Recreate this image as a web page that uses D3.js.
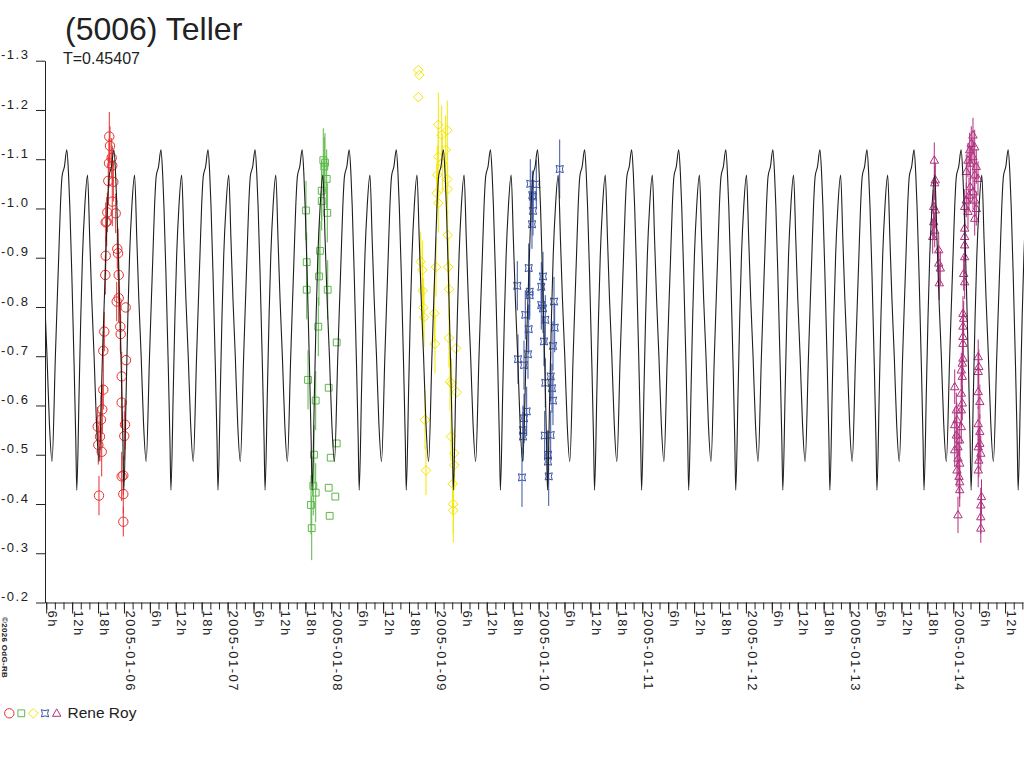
<!DOCTYPE html>
<html><head><meta charset="utf-8">
<script src="https://cdn.jsdelivr.net/npm/d3@7"></script>
<style>
body{margin:0;background:#fff}
svg{display:block;background:#fff}
text{font-family:"Liberation Sans",Arial,sans-serif;fill:#222}
</style>
</head><body>
<svg id="chart" width="1024" height="768"></svg>
<script>
// ---------------- data ----------------
const titleText = "(5006) Teller";
const periodText = "T=0.45407";
const periodDays = 0.45407;
const observerText = "Rene Roy";
const creditText = "\u00A92026 OdG-RB";

const yTickValues = [-1.3,-1.2,-1.1,-1.0,-0.9,-0.8,-0.7,-0.6,-0.5,-0.4,-0.3,-0.2];
const hourLabels = ["6h","12h","18h"];          // for 6h, 12h, 18h ticks
const dateLabels = ["2005-01-05","2005-01-06","2005-01-07","2005-01-08","2005-01-09",
                    "2005-01-10","2005-01-11","2005-01-12","2005-01-13","2005-01-14","2005-01-15"];
const xStartDay = 5.2383;   // day of January 2005 (UT) at left edge
const xEndDay = 14.6730;    // day of January 2005 (UT) at right edge

// model lightcurve: one period (phase 0 = primary maximum)
const curveEpochDay = 6.3568;
const curvePhase = [0,0.036,0.064,0.106,0.156,0.191,0.212,0.262,0.297,0.333,0.382,0.44,
                    0.488,0.531,0.58,0.63,0.686,0.757,0.792,0.828,0.864,0.899,0.949];
const curveMag   = [-1.119,-1.071,-1.004,-0.868,-0.679,-0.530,-0.428,-0.631,-0.780,-0.902,-1.004,-1.068,
                    -0.936,-0.814,-0.699,-0.564,-0.486,-0.699,-0.801,-0.902,-1.004,-1.065,-1.085];

// observations: [day of Jan 2005 UT, magnitude, error]
const session1 = [[5.8586,-1.146,0.05],[5.8653,-1.127,0.04],[5.8817,-1.103,0.04],[5.8557,-1.092,0.05],[5.8875,-1.087,0.04],
 [5.8489,-1.056,0.05],[5.8972,-1.054,0.04],[5.8875,-1.014,0.05],[5.8393,-0.992,0.04],[5.9203,-0.990,0.04],[5.8335,-0.973,0.05],
 [5.8239,-0.972,0.04],[5.9357,-0.918,0.04],[5.9425,-0.909,0.05],[5.8239,-0.904,0.04],[5.8200,-0.865,0.04],[5.9493,-0.865,0.05],
 [5.9493,-0.818,0.05],[5.9300,-0.811,0.04],[6.0168,-0.799,0],[5.8103,-0.750,0.04],[5.9647,-0.760,0.05],[5.9685,-0.745,0.04],
 [5.8007,-0.711,0.04],[6.0197,-0.692,0],[5.9782,-0.659,0.05],[5.8007,-0.632,0.04],[5.9782,-0.606,0.05],[5.7910,-0.592,0.05],
 [5.7785,-0.571,0.05],[5.7467,-0.557,0.04],[6.0100,-0.561,0.05],[5.7689,-0.537,0.05],[6.0033,-0.538,0.05],[5.7525,-0.520,0.04],
 [5.7853,-0.506,0.05],[5.9782,-0.456,0.05],[5.9936,-0.458,0.04],[5.7592,-0.417,0.04],[5.9936,-0.420,0.04],[5.9936,-0.364,0.03]];

const session2 = [[7.9230,-1.098,0.065],[7.9394,-1.093,0.06],[7.9327,-1.085,0.06],[7.9558,-1.060,0.06],[7.9076,-1.036,0.06],
 [7.9076,-1.015,0.06],[7.7561,-0.996,0.06],[7.9616,-0.991,0.06],[7.8912,-0.914,0.06],[7.7629,-0.891,0.06],[7.8815,-0.862,0.06],
 [7.7629,-0.835,0.06],[7.9654,-0.835,0.06],[7.8748,-0.760,0.06],[8.0523,-0.728,0],[7.7755,-0.652,0.06],[7.9751,-0.636,0],
 [7.8497,-0.610,0.06],[8.0523,-0.523,0],[7.8333,-0.500,0.06],[7.9944,-0.494,0],[7.8265,-0.437,0.06],[7.8497,-0.423,0.06],
 [7.9751,-0.433,0],[8.0388,-0.415,0],[7.8044,-0.398,0.06],[7.9847,-0.376,0],[7.8111,-0.351,0.065]];

const session3 = [[8.8395,-1.281,0],[8.8491,-1.271,0],[8.8395,-1.226,0],[9.0324,-1.170,0.065],[9.1192,-1.159,0.06],
 [9.0652,-1.149,0.06],[9.1038,-1.119,0.07],[9.0324,-1.105,0.06],[9.0710,-1.092,0.06],[9.0228,-1.068,0.06],[9.1192,-1.059,0.05],
 [9.1231,-1.039,0.05],[9.0170,-1.031,0.06],[9.0324,-1.011,0.06],[9.1231,-0.946,0.05],[8.8627,-0.892,0.06],[8.8781,-0.875,0.06],
 [9.0103,-0.881,0.06],[9.1289,-0.881,0.06],[8.8820,-0.833,0.06],[9.1357,-0.836,0.06],[8.8877,-0.799,0.06],[8.8945,-0.779,0.06],
 [8.9939,-0.787,0.06],[9.0006,-0.725,0.06],[9.1357,-0.737,0.06],[9.2032,-0.716,0],[9.1453,-0.648,0.06],[9.1617,-0.645,0.05],
 [9.2100,-0.627,0],[8.9041,-0.571,0.06],[9.1550,-0.537,0.05],[9.1868,-0.503,0.05],[9.1868,-0.479,0.05],[8.9138,-0.468,0.05],
 [9.1713,-0.441,0.06],[9.1771,-0.400,0.06],[9.1771,-0.387,0.065]];

const session4 = [[10.2036,-1.080,0.06],[9.9199,-1.050,0.05],[9.9778,-1.049,0.05],[9.9392,-1.027,0.05],[9.9460,-1.024,0.05],
 [9.9460,-0.995,0.05],[9.9363,-0.968,0.05],[9.9045,-0.879,0.05],[10.0424,-0.862,0.05],[9.7945,-0.843,0.05],[10.0260,-0.841,0.05],
 [9.9141,-0.831,0.05],[9.9141,-0.824,0.05],[10.1485,-0.811,0.05],[10.0260,-0.804,0.05],[10.0424,-0.797,0.05],[9.8716,-0.784,0.05],
 [10.0646,-0.774,0.05],[9.9045,-0.755,0.05],[10.1553,-0.758,0.05],[10.0520,-0.730,0.05],[10.1389,-0.721,0.05],[9.8977,-0.704,0.05],
 [9.8012,-0.694,0.05],[9.8591,-0.682,0.05],[10.0646,-0.646,0.05],[10.1167,-0.659,0.05],[10.1292,-0.635,0.05],[10.1389,-0.610,0.05],
 [9.8851,-0.588,0.05],[9.8591,-0.574,0.05],[9.8494,-0.550,0.05],[9.8494,-0.537,0.05],[10.0588,-0.539,0.05],[10.1167,-0.540,0.05],
 [10.0907,-0.500,0.05],[10.0907,-0.486,0.05],[10.0974,-0.456,0.06],[9.8398,-0.454,0.06]];

const session5 = [[13.8173,-1.098,0.036],[13.8270,-1.058,0.035],[13.8212,-1.052,0.035],[13.8115,-1.004,0.035],[13.8270,-0.997,0.035],
 [13.8115,-0.973,0.035],[13.8212,-0.956,0.035],[13.8019,-0.943,0.035],[13.8598,-0.916,0.035],[13.8598,-0.889,0.035],[13.8752,-0.879,0.035],
 [13.8656,-0.849,0.035],[14.1906,-1.149,0.035],[14.1742,-1.132,0.035],[14.1587,-1.119,0.035],[14.2070,-1.125,0.035],[14.1423,-1.098,0.035],
 [14.1906,-1.105,0.035],[14.1645,-1.092,0.035],[14.2224,-1.085,0.035],[14.1259,-1.075,0.035],[14.2070,-1.068,0.035],[14.2388,-1.061,0.035],
 [14.1645,-1.044,0.035],[14.1906,-1.034,0.035],[14.1520,-1.027,0.035],[14.2070,-1.017,0.035],[14.1259,-1.017,0.035],[14.1104,-1.004,0.035],
 [14.2224,-1.000,0.035],[14.1423,-0.994,0.035],[14.2070,-0.980,0.035],[14.1104,-0.960,0.035],[14.1104,-0.943,0.035],[14.1104,-0.926,0.035],
 [14.1104,-0.902,0.035],[14.1007,-0.868,0.035],[14.1104,-0.851,0.035],[14.0940,-0.787,0.035],[14.1007,-0.777,0.035],[14.0940,-0.761,0.035],
 [14.0940,-0.740,0.035],[14.0940,-0.726,0.035],[14.0940,-0.696,0.035],[14.0875,-0.686,0.035],[14.0778,-0.672,0.035],[14.0875,-0.659,0.035],
 [14.0142,-0.638,0.035],[14.0778,-0.625,0.035],[14.0875,-0.605,0.035],[14.0296,-0.591,0.035],[14.0778,-0.591,0.035],[14.0361,-0.571,0.035],
 [14.0142,-0.561,0.035],[14.0778,-0.557,0.035],[14.0296,-0.540,0.035],[14.0624,-0.530,0.035],[14.0459,-0.516,0.035],[14.0142,-0.510,0.035],
 [14.0459,-0.493,0.035],[14.0624,-0.483,0.035],[14.0361,-0.469,0.035],[14.0556,-0.456,0.035],[14.0624,-0.445,0.035],[14.0624,-0.429,0.035],
 [14.0459,-0.378,0.037],[14.2409,-0.699,0.035],[14.2468,-0.679,0.035],[14.2409,-0.669,0.035],[14.2409,-0.628,0.035],[14.2564,-0.608,0.035],
 [14.2409,-0.563,0.035],[14.2564,-0.547,0.035],[14.2564,-0.523,0.035],[14.2409,-0.516,0.035],[14.2660,-0.503,0.035],[14.2468,-0.489,0.035],
 [14.2409,-0.469,0.035],[14.2727,-0.415,0.035],[14.2660,-0.398,0.035],[14.2660,-0.374,0.035],[14.2660,-0.351,0.03]];

// ---------------- drawing ----------------
const svg = d3.select("#chart");
const W = 1024, H = 768;
const plotLeft = 45, plotRight = 1023, plotTop = 60.7, plotBottom = 602.5;

const toDate = d => new Date(Date.UTC(2005,0,1) + (d - 1) * 864e5);
const x = d3.scaleUtc().domain([toDate(xStartDay), toDate(xEndDay)]).range([plotLeft, plotRight]);
const y = d3.scaleLinear().domain([-1.3, -0.2]).range([plotTop, plotBottom]);

const axisFont = {size: "13px", spacing: "1.5px"};
const ink = "#222";

// clip
svg.append("defs").append("clipPath").attr("id","plotclip")
  .append("rect").attr("x",plotLeft).attr("y",0).attr("width",W-plotLeft).attr("height",plotBottom);

// title
svg.append("text").attr("x",65).attr("y",39.5).style("font-size","32px").text(titleText);
svg.append("text").attr("x",63).attr("y",64).style("font-size","16px").text(periodText);

// y axis
const yAxis = d3.axisLeft(y).tickValues(yTickValues).tickSize(9).tickSizeOuter(0)
  .tickFormat(d => d.toFixed(1));
const gy = svg.append("g").attr("transform",`translate(${plotLeft},0)`).call(yAxis);
gy.select(".domain").attr("stroke",ink);
gy.selectAll(".tick line").attr("stroke",ink);
gy.selectAll(".tick text").attr("x",-44).attr("dy",null).attr("y",-1.8)
  .attr("text-anchor","start").style("font-size",axisFont.size).style("letter-spacing",axisFont.spacing)
  .style("font-family","'Liberation Sans',Arial,sans-serif").attr("fill",ink);

// x axis: minor 2h ticks
const xMinor = d3.axisBottom(x).ticks(d3.utcHour.every(2)).tickSize(7).tickSizeOuter(0).tickFormat("");
const gxm = svg.append("g").attr("transform",`translate(0,${plotBottom})`).call(xMinor);
gxm.select(".domain").attr("stroke",ink);
gxm.selectAll(".tick line").attr("stroke",ink);

// x axis: major 6h ticks with labels
const labelFor = d => {
  const h = d.getUTCHours();
  if (h === 0) {
    const key = d3.utcFormat("%Y-%m-%d")(d);
    return dateLabels.includes(key) ? key : "";
  }
  return hourLabels[h/6 - 1];
};
const xMajor = d3.axisBottom(x).ticks(d3.utcHour.every(6)).tickSize(11).tickSizeOuter(0).tickFormat(labelFor);
const gx = svg.append("g").attr("transform",`translate(0,${plotBottom})`).call(xMajor);
gx.select(".domain").remove();
gx.selectAll(".tick line").attr("stroke",ink);
gx.selectAll(".tick text").attr("transform","rotate(90)").attr("x",8).attr("y",-1.2).attr("dy",null)
  .attr("text-anchor","start").style("font-size",axisFont.size).style("letter-spacing",axisFont.spacing)
  .style("font-family","'Liberation Sans',Arial,sans-serif").attr("fill",ink);

// marker shapes
function markerPath(shape){
  switch(shape){
    case "circle": return d3.symbol(d3.symbolCircle, Math.PI*4.7*4.7)();
    case "square": return "M-3.4,-3.4H3.4V3.4H-3.4Z";
    case "diamond": return "M0,-4.8L4.8,0L0,4.8L-4.8,0Z";
    case "star": return "M-3.6,-3.6Q0,-1.6 3.6,-3.6Q1.6,0 3.6,3.6Q0,1.6 -3.6,3.6Q-1.6,0 -3.6,-3.6Z";
    case "triangle": return "M0,-4.4L4.2,3L-4.2,3Z";
  }
}

const seriesDefs = [
  {data: session1, color: "#e8302f", shape: "circle"},
  {data: session2, color: "#5cb84a", shape: "square"},
  {data: session3, color: "#f2e800", shape: "diamond"},
  {data: session4, color: "#3a54a4", shape: "star"},
  {data: session5, color: "#b0307e", shape: "triangle"}
];

const plotG = svg.append("g").attr("clip-path","url(#plotclip)");

seriesDefs.forEach(s => {
  const g = plotG.append("g");
  g.selectAll("line.err").data(s.data.filter(d => d[2] > 0)).join("line")
    .attr("class","err")
    .attr("x1", d => x(toDate(d[0]))).attr("x2", d => x(toDate(d[0])))
    .attr("y1", d => y(d[1] - d[2])).attr("y2", d => y(d[1] + d[2]))
    .attr("stroke", s.color).attr("stroke-width", 1);
  g.selectAll("path.mk").data(s.data).join("path")
    .attr("class","mk")
    .attr("transform", d => `translate(${x(toDate(d[0]))},${y(d[1])})`)
    .attr("d", markerPath(s.shape))
    .attr("fill","none").attr("stroke", s.color).attr("stroke-width", 1);
});

// model curve tiled over the time range
const curvePts = [];
const kStart = Math.floor((xStartDay - curveEpochDay) / periodDays) - 1;
const kEnd = Math.ceil((xEndDay - curveEpochDay) / periodDays) + 1;
for (let k = kStart; k <= kEnd; k++) {
  curvePhase.forEach((p, i) => curvePts.push([curveEpochDay + (k + p) * periodDays, curveMag[i]]));
}
const line = d3.line().x(d => x(toDate(d[0]))).y(d => y(d[1])).curve(d3.curveMonotoneX);
plotG.append("path").datum(curvePts).attr("d", line)
  .attr("fill","none").attr("stroke","#1e1e1e").attr("stroke-width",1.1);

// credit (vertical)
svg.append("text").attr("transform","translate(1.5,617) rotate(90)")
  .style("font-size","8px").style("font-weight","bold").style("letter-spacing","0.3px")
  .text(creditText);

// legend
const legendX = [9.3, 21.3, 33.3, 45, 56.7];
seriesDefs.forEach((s, i) => {
  svg.append("path").attr("transform",`translate(${legendX[i]},713.3)`)
    .attr("d", markerPath(s.shape)).attr("fill","none").attr("stroke", s.color);
});
svg.append("text").attr("x",67.5).attr("y",717.5).style("font-size","15.5px").text(observerText);
</script>
</body></html>
